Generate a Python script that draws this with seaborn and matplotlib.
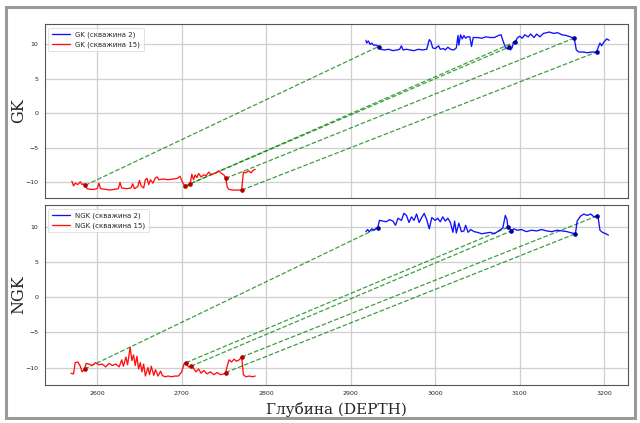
import matplotlib
matplotlib.use("Agg")
import matplotlib.pyplot as plt
import seaborn as sns
import pandas as pd
from matplotlib.patches import Rectangle

# ---------------- data ----------------
gk2_depth = [2918, 2919, 2921, 2923, 2925, 2927, 2930, 2933, 2936, 2940, 2945, 2950, 2955, 2958,
             2960, 2962, 2966, 2970, 2975, 2980, 2985, 2990, 2993, 2995, 2997, 3000, 3004, 3006,
             3010, 3012, 3015, 3018, 3022, 3025, 3027, 3028, 3030, 3032, 3034, 3036, 3038, 3041,
             3043, 3045, 3050, 3055, 3060, 3065, 3070, 3075, 3078, 3080, 3083, 3086, 3087, 3089,
             3091, 3093, 3095, 3097, 3100, 3103, 3106, 3110, 3113, 3117, 3120, 3124, 3128, 3132,
             3135, 3140, 3145, 3150, 3155, 3160, 3164, 3165, 3167, 3170, 3175, 3180, 3185, 3190,
             3191, 3193, 3195, 3197, 3200, 3203, 3206]
gk2_value = [10.6, 10.2, 10.5, 10.0, 10.2, 9.9, 9.9, 9.7, 9.3, 9.2, 9.3, 9.1, 9.2, 9.3,
             9.8, 9.2, 9.3, 9.2, 9.1, 9.3, 9.2, 9.3, 10.7, 10.4, 9.5, 9.4, 9.8, 9.3,
             9.4, 9.2, 9.6, 9.3, 9.2, 9.5, 11.3, 9.9, 11.4, 10.8, 11.3, 10.9, 11.1, 11.1,
             9.7, 11.0, 11.0, 10.9, 11.1, 11.0, 11.0, 11.3, 11.4, 10.6, 9.6, 9.3, 9.6, 9.2,
             9.5, 10.4, 10.4, 10.9, 11.2, 10.9, 11.4, 11.1, 11.5, 11.0, 11.5, 11.1, 11.6, 11.7,
             11.8, 11.6, 11.7, 11.4, 11.3, 11.1, 10.9, 10.6, 9.2, 8.9, 8.9, 8.8, 8.9, 8.9,
             8.9, 9.6, 10.2, 9.8, 10.4, 10.8, 10.6]

gk15_depth = [2570, 2572, 2574, 2577, 2580, 2582, 2584, 2586, 2588, 2592, 2596, 2600, 2602, 2604,
              2610, 2615, 2620, 2625, 2627, 2629, 2635, 2640, 2642, 2644, 2648, 2650, 2652, 2655,
              2657, 2659, 2661, 2663, 2666, 2669, 2671, 2673, 2678, 2684, 2690, 2695, 2698, 2700,
              2702, 2704, 2706, 2708, 2710, 2712, 2714, 2716, 2718, 2720, 2723, 2726, 2729, 2732,
              2735, 2738, 2741, 2744, 2747, 2750, 2752, 2754, 2756, 2760, 2765, 2770, 2771, 2773,
              2776, 2779, 2782, 2785, 2787]
gk15_value = [-9.8, -10.5, -10.1, -10.3, -9.9, -10.3, -10.2, -10.4, -10.9, -11.0, -11.0, -10.9, -10.1, -10.9,
              -11.0, -11.1, -11.0, -10.9, -10.0, -10.8, -10.9, -10.8, -10.2, -10.9, -10.6, -9.7, -10.5, -10.8,
              -9.6, -9.4, -10.3, -9.6, -10.1, -9.3, -9.2, -9.6, -9.5, -9.6, -9.5, -9.4, -9.1, -9.7,
              -10.2, -10.5, -10.6, -10.4, -10.2, -8.8, -9.6, -8.9, -9.3, -8.7, -9.2, -8.9, -9.0, -8.5,
              -8.9, -8.7, -8.6, -8.3, -8.7, -8.9, -9.4, -10.7, -11.0, -11.1, -11.1, -11.1, -11.1, -8.5,
              -8.6, -8.3, -8.6, -8.2, -8.1]

ngk2_depth = [2918, 2920, 2922, 2925, 2928, 2930, 2932, 2934, 2938, 2942, 2946, 2950, 2953, 2956,
              2960, 2963, 2966, 2969, 2972, 2975, 2978, 2981, 2984, 2987, 2990, 2993, 2996, 3000,
              3003, 3006, 3009, 3012, 3015, 3018, 3021, 3023, 3025, 3028, 3031, 3034, 3036, 3039,
              3042, 3046, 3050, 3055, 3060, 3065, 3070, 3075, 3080, 3083, 3085, 3086, 3088, 3090,
              3093, 3097, 3102, 3108, 3114, 3120, 3126, 3132, 3138, 3144, 3150, 3156, 3162, 3166,
              3168, 3172, 3176, 3180, 3184, 3188, 3191, 3193, 3195, 3198, 3202, 3205]
ngk2_value = [9.3, 9.6, 9.3, 9.7, 9.5, 9.8, 9.8, 10.9, 10.8, 10.7, 11.0, 10.8, 10.2, 11.2,
              10.9, 11.9, 11.6, 10.6, 11.4, 10.9, 11.8, 10.6, 11.3, 11.9, 11.0, 9.7, 11.3, 10.9,
              11.2, 10.7, 11.4, 10.8, 11.2, 10.6, 9.2, 10.8, 9.1, 10.5, 9.3, 9.4, 10.2, 9.2,
              9.6, 9.3, 9.2, 9.0, 9.1, 9.2, 9.0, 9.4, 9.8, 11.6, 11.0, 9.9, 9.8, 9.4,
              9.7, 9.5, 9.6, 9.3, 9.5, 9.4, 9.6, 9.4, 9.3, 9.5, 9.4, 9.3, 9.1, 9.0,
              10.8, 11.5, 11.8, 11.6, 11.8, 11.4, 11.5, 11.2, 9.5, 9.2, 9.0, 8.8]

ngk15_depth = [2569, 2572, 2574, 2577, 2580, 2582, 2585, 2587, 2590, 2594, 2598, 2602, 2606, 2610,
               2614, 2618, 2622, 2626, 2629, 2631, 2634, 2636, 2639, 2641, 2643, 2645, 2647, 2649,
               2651, 2653, 2655, 2657, 2660, 2662, 2664, 2667, 2669, 2672, 2675, 2677, 2680, 2684,
               2688, 2692, 2696, 2700, 2703, 2705, 2708, 2711, 2714, 2717, 2720, 2723, 2726, 2730,
               2734, 2738, 2742, 2746, 2750, 2752, 2754, 2756, 2759, 2762, 2765, 2768, 2771, 2773,
               2776, 2780, 2784, 2787]
ngk15_value = [-10.8, -10.9, -9.3, -9.2, -9.8, -10.6, -10.2, -9.4, -9.5, -9.7, -9.3, -9.6, -9.5, -9.9,
               -9.4, -9.7, -9.5, -9.9, -8.9, -9.8, -8.5, -9.6, -7.1, -9.0, -8.2, -9.7, -8.4, -10.2,
               -9.3, -10.6, -9.5, -11.2, -10.0, -11.0, -9.8, -11.1, -10.3, -11.2, -10.5, -11.1, -11.3, -11.2,
               -11.3, -11.2, -11.2, -10.6, -9.4, -9.3, -9.9, -9.8, -10.1, -10.6, -10.2, -10.8, -10.4, -10.9,
               -10.6, -11.0, -10.7, -11.0, -10.9, -10.7, -9.7, -8.9, -9.2, -8.8, -9.1, -8.9, -8.5, -11.0,
               -11.3, -11.2, -11.3, -11.2]

# matched points (well 15 depth -> well 2 depth)
gk_match15 = [2586, 2704, 2710, 2752, 2771]
gk_match2 = [2933, 3087, 3095, 3164, 3191]
ngk_match15 = [2585, 2705, 2711, 2752, 2771]
ngk_match2 = [2932, 3086, 3090, 3166, 3191]

depth_ticks = [2600, 2700, 2800, 2900, 3000, 3100, 3200]
value_ticks = [-10, -5, 0, 5, 10]

# ---------------- plot ----------------
sns.set_style("white")
plt.rcParams['font.family'] = ['DejaVu Sans']

fig = plt.figure(figsize=(6.4, 4.23), dpi=100)
ax1 = fig.add_axes([0.070, 0.532, 0.911, 0.411])
ax2 = fig.add_axes([0.070, 0.090, 0.911, 0.425], sharex=ax1)

fig.patches.append(Rectangle((0.009, 0.012), 0.983, 0.972, transform=fig.transFigure,
                             fill=False, edgecolor='#9a9a9a', linewidth=2.2))


def panel(ax, d2, v2, d15, v15, m15, m2, name):
    df2 = pd.DataFrame({'depth': d2, 'val': v2})
    df15 = pd.DataFrame({'depth': d15, 'val': v15})
    sns.lineplot(data=df2, x='depth', y='val', ax=ax, color='#1010ff', lw=0.95,
                 sort=False, estimator=None, label=f'{name} (скважина 2)')
    sns.lineplot(data=df15, x='depth', y='val', ax=ax, color='#ff1010', lw=0.95,
                 sort=False, estimator=None, label=f'{name} (скважина 15)')
    lookup2 = dict(zip(d2, v2))
    lookup15 = dict(zip(d15, v15))
    for a, b in zip(m15, m2):
        ya = lookup15[a]
        yb = lookup2[b]
        ax.plot([a, b], [ya, yb], color='green', ls='--', lw=0.9, alpha=0.75, zorder=1)
        ax.plot([a], [ya], 'o', color='#b00000', ms=2.3, zorder=4)
        ax.plot([b], [yb], 'o', color='#0000a0', ms=2.3, zorder=4)
    ax.set_ylabel(name, family='DejaVu Serif', fontsize=11.5)
    ax.yaxis.set_label_coords(-0.031, 0.5)
    ax.set_yticks(value_ticks)
    ax.set_xticks(depth_ticks)
    ax.grid(True, color='#cfcfcf', lw=0.9)
    ax.tick_params(labelsize=4.5, length=2.5, width=0.6, color='#555555', pad=2)
    for s in ax.spines.values():
        s.set_color('#555555')
        s.set_linewidth(0.8)
    leg = ax.legend(loc='upper left', fontsize=5, frameon=True, handlelength=2.6,
                    borderpad=0.5, labelspacing=0.55, fancybox=True)
    leg.get_frame().set_linewidth(0.5)


panel(ax1, gk2_depth, gk2_value, gk15_depth, gk15_value, gk_match15, gk_match2, 'GK')
panel(ax2, ngk2_depth, ngk2_value, ngk15_depth, ngk15_value, ngk_match15, ngk_match2, 'NGK')

ax1.set_xlim(2538, 3228)
plt.setp(ax1.get_xticklabels(), visible=False)
ax1.set_xlabel('')
ax2.set_xlabel('Глубина (DEPTH)', family='DejaVu Serif', fontsize=11, labelpad=4)

fig.savefig('out.png', dpi=100)
